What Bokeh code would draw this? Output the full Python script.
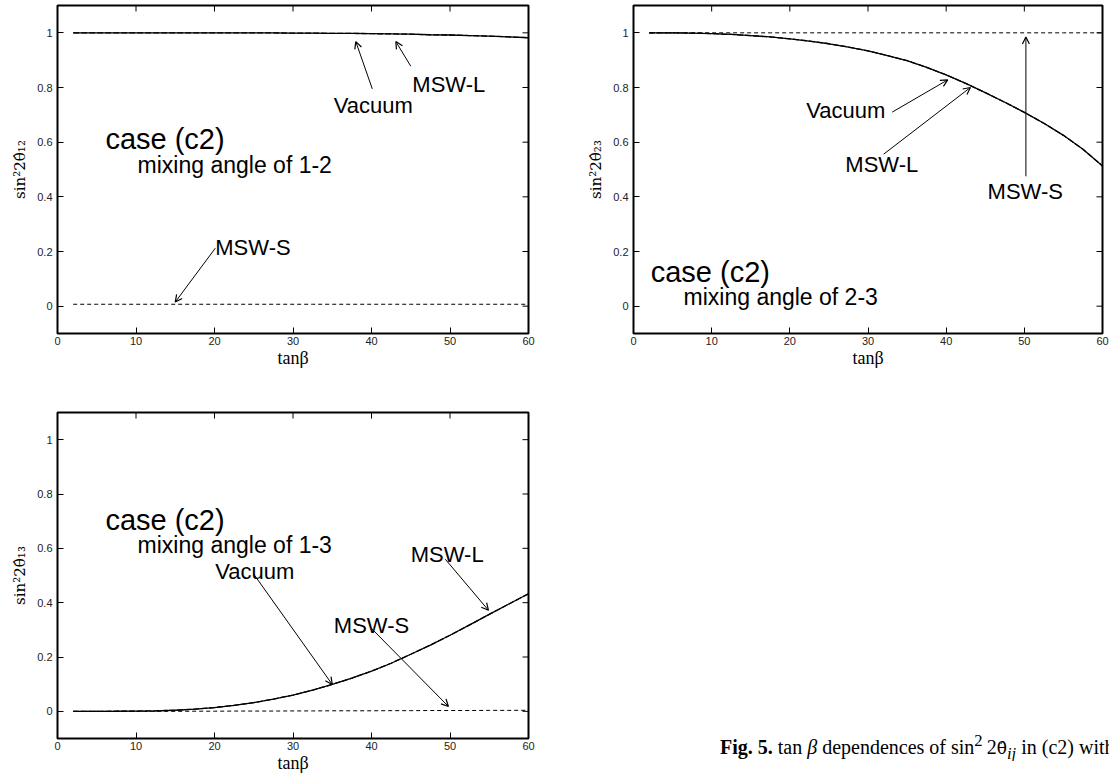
from bokeh.plotting import figure
from bokeh.layouts import column, row
from bokeh.models import Range1d, FixedTicker, Label, Arrow, OpenHead, Div
from bokeh.embed import file_html
from bokeh.resources import INLINE

# ---------------- data ----------------
tanb = [2, 5, 7.5, 10, 12.5, 15, 17.5, 20, 22.5, 25, 27.5, 30, 32.5, 35,
        37.5, 40, 42.5, 45, 47.5, 50, 52.5, 55, 57.5, 60]

s12_vacuum = [1.0, 1.0, 1.0, 1.0, 1.0, 1.0, 1.0, 1.0, 1.0, 1.0, 0.9995, 0.999,
              0.999, 0.998, 0.998, 0.997, 0.996, 0.995, 0.993, 0.992, 0.990,
              0.988, 0.985, 0.982]
s12_mswl = [1.0, 1.0, 1.0, 1.0, 1.0, 1.0, 1.0, 1.0, 1.0, 1.0, 0.9995, 0.999,
            0.999, 0.998, 0.998, 0.997, 0.996, 0.995, 0.993, 0.992, 0.990,
            0.988, 0.985, 0.982]
s12_msws = [0.007, 0.007, 0.007, 0.007, 0.007, 0.007, 0.007, 0.007, 0.007,
            0.007, 0.007, 0.007, 0.007, 0.007, 0.007, 0.007, 0.007, 0.007,
            0.007, 0.007, 0.007, 0.007, 0.007, 0.007]

s23_vacuum = [1.0, 1.0, 0.999, 0.997, 0.994, 0.990, 0.985, 0.978, 0.970, 0.960,
              0.948, 0.934, 0.917, 0.898, 0.874, 0.846, 0.815, 0.781, 0.746,
              0.709, 0.669, 0.625, 0.574, 0.513]
s23_mswl = [1.0, 1.0, 0.999, 0.997, 0.994, 0.990, 0.985, 0.978, 0.970, 0.960,
            0.948, 0.934, 0.917, 0.898, 0.874, 0.846, 0.815, 0.781, 0.746,
            0.709, 0.669, 0.625, 0.574, 0.513]
s23_msws = [1.0, 1.0, 1.0, 1.0, 1.0, 1.0, 1.0, 1.0, 1.0, 1.0, 1.0, 1.0,
            1.0, 1.0, 1.0, 1.0, 1.0, 1.0, 1.0, 1.0, 1.0, 1.0, 1.0, 1.0]

s13_vacuum = [0.0, 0.0, 0.0003, 0.001, 0.002, 0.004, 0.008, 0.014, 0.022, 0.032,
              0.045, 0.060, 0.078, 0.099, 0.122, 0.148, 0.177, 0.210, 0.244,
              0.280, 0.318, 0.357, 0.395, 0.433]
s13_mswl = [0.0, 0.0, 0.0003, 0.001, 0.002, 0.004, 0.008, 0.014, 0.022, 0.032,
            0.045, 0.060, 0.078, 0.099, 0.122, 0.148, 0.177, 0.210, 0.244,
            0.280, 0.318, 0.357, 0.395, 0.433]
s13_msws = [0.0, 0.0, 0.0, 0.0, 0.0, 0.0, 0.0005, 0.0005, 0.001, 0.001, 0.001,
            0.0015, 0.0015, 0.002, 0.002, 0.002, 0.0025, 0.0025, 0.003, 0.003,
            0.003, 0.0035, 0.0035, 0.004]

x_ticks = [0, 10, 20, 30, 40, 50, 60]
y_ticks = [0, 0.2, 0.4, 0.6, 0.8, 1]
y_tick_labels = ["0", "0.2", "0.4", "0.6", "0.8", "1"]
x_lim = [0, 60]
y_lim = [-0.1, 1.1]

ylabels = ["sin\u00b22\u03b8\u0302\u2081\u2082",
           "sin\u00b22\u03b8\u0302\u2082\u2083",
           "sin\u00b22\u03b8\u0302\u2081\u2083"]
xlabel = "tan\u03b2"

# annotation texts: (text, x, y baseline) and arrows (x0, y0, x1, y1) in data units
p1_labels = [("Vacuum", 35.2, 0.735), ("MSW-L", 45.2, 0.812), ("MSW-S", 20.1, 0.214)]
p1_arrows = [(40.1, 0.795, 38.0, 0.968), (45.0, 0.878, 43.1, 0.968), (20.1, 0.212, 15.0, 0.015)]
p1_case = [("case (c2)", 6.1, 0.610), ("mixing angle of 1-2", 10.2, 0.518)]

p2_labels = [("Vacuum", 22.1, 0.715), ("MSW-L", 27.1, 0.518), ("MSW-S", 45.3, 0.420)]
p2_arrows = [(33.1, 0.71, 40.2, 0.828), (32.0, 0.556, 43.1, 0.80), (50.2, 0.475, 50.2, 0.985)]
p2_case = [("case (c2)", 2.2, 0.124), ("mixing angle of 2-3", 6.4, 0.032)]

p3_labels = [("Vacuum", 20.1, 0.515), ("MSW-S", 35.2, 0.315), ("MSW-L", 45.0, 0.576)]
p3_arrows = [(25.0, 0.505, 35.0, 0.099), (40.1, 0.302, 49.8, 0.018), (49.4, 0.56, 54.9, 0.372)]
p3_case = [("case (c2)", 6.1, 0.703), ("mixing angle of 1-3", 10.2, 0.612)]

caption_html = ("<b>Fig. 5.</b> tan <i>\u03b2</i> dependences of sin<sup>2</sup>&thinsp;2"
                "<span style=\"font-family:'DejaVu Serif',serif;font-size:17px\">\u03b8\u0302</span>"
                "<sub><i>ij</i></sub> in (c2) with")

SANS = "Liberation Sans"
SERIF = "Liberation Serif"
TICK = 6  # tick length in px


def make_panel(ylab, fw, fh, bl, br, bt, bb, vac, mswl, msws, labels, arrows, case):
    p = figure(frame_width=fw, frame_height=fh,
               x_range=Range1d(*x_lim), y_range=Range1d(*y_lim),
               output_backend="svg", toolbar_location=None,
               min_border_left=bl, min_border_right=br,
               min_border_top=bt, min_border_bottom=bb,
               background_fill_color="white", border_fill_color="white")
    p.grid.visible = False
    p.outline_line_color = "black"
    p.outline_line_width = 2
    p.outline_line_alpha = 1.0
    p.xaxis.ticker = FixedTicker(ticks=x_ticks)
    p.yaxis.ticker = FixedTicker(ticks=y_ticks)
    for ax in p.axis:
        ax.axis_line_color = None
        ax.major_tick_in = TICK
        ax.major_tick_out = 0
        ax.major_tick_line_color = "black"
        ax.major_tick_line_width = 1
        ax.minor_tick_line_color = None
        ax.major_label_text_font = SANS
        ax.major_label_text_font_size = "11px"
        ax.major_label_text_color = "#222222"
        ax.axis_label_text_font = SERIF
        ax.axis_label_text_font_style = "normal"
        ax.axis_label_text_color = "black"
    xa = p.xaxis[0]
    ya = p.yaxis[0]
    ya.major_label_overrides = dict(zip(y_ticks, y_tick_labels))
    ya.major_label_standoff = 5
    ya.axis_label = ylab
    ya.axis_label_text_font = "DejaVu Serif"
    ya.axis_label_text_font_size = "15px"
    ya.axis_label_standoff = 5
    xa.major_label_standoff = 3
    xa.axis_label = xlabel
    xa.axis_label_text_font_size = "18px"
    xa.axis_label_standoff = 0

    # mirrored inward ticks on the top and right frame edges
    dy = TICK * (y_lim[1] - y_lim[0]) / fh
    dx = TICK * (x_lim[1] - x_lim[0]) / fw
    p.segment(x0=x_ticks, y0=[y_lim[1]] * len(x_ticks),
              x1=x_ticks, y1=[y_lim[1] - dy] * len(x_ticks),
              line_color="black", line_width=1)
    p.segment(x0=[x_lim[1]] * len(y_ticks), y0=y_ticks,
              x1=[x_lim[1] - dx] * len(y_ticks), y1=y_ticks,
              line_color="black", line_width=1)

    p.line(tanb, vac, line_color="black", line_width=1.3)
    p.line(tanb, mswl, line_color="black", line_width=1.3, line_dash="6 2")
    p.line(tanb, msws, line_color="black", line_width=1.0, line_dash="4 3")

    for t, x, y in labels:
        p.add_layout(Label(x=x, y=y, text=t, text_font=SANS, text_font_size="22px",
                           text_baseline="alphabetic", text_color="black"))
    for x0, y0, x1, y1 in arrows:
        p.add_layout(Arrow(end=OpenHead(size=7, line_width=1.2, line_color="black"),
                           x_start=x0, y_start=y0, x_end=x1, y_end=y1,
                           line_color="black", line_width=1))
    sizes = ["29px", "23px"]
    for (t, x, y), s in zip(case, sizes):
        p.add_layout(Label(x=x, y=y, text=t, text_font=SANS, text_font_size=s,
                           text_baseline="alphabetic", text_color="black"))
    return p


p1 = make_panel(ylabels[0], 471, 328, 57, 48, 5, 74,
                s12_vacuum, s12_mswl, s12_msws, p1_labels, p1_arrows, p1_case)
p2 = make_panel(ylabels[1], 469, 328, 57, 7, 5, 74,
                s23_vacuum, s23_mswl, s23_msws, p2_labels, p2_arrows, p2_case)
p3 = make_panel(ylabels[2], 471, 326, 57, 48, 5, 34,
                s13_vacuum, s13_mswl, s13_msws, p3_labels, p3_arrows, p3_case)

caption = Div(text=caption_html, width=389, height=32, margin=(322, 0, 0, 144),
              styles={"font-family": "'Liberation Serif', serif", "font-size": "20px",
                      "white-space": "nowrap", "overflow": "hidden", "color": "black"})

layout = column(row(p1, p2), row(p3, caption))

open("out.html", "w").write(file_html(layout, INLINE))
